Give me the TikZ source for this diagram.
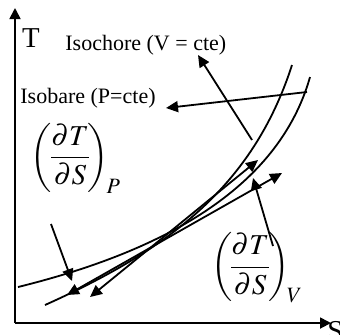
\documentclass[tikz,border=0pt]{standalone}
\usepackage{amsmath}
\usepackage{mathptmx}
\usepackage{fontspec}
\setmainfont{Liberation Serif}
\usetikzlibrary{arrows.meta}

\tikzset{
  curve/.style={line width=0.9pt},
  pointer/.style={line width=0.9pt,-{Triangle[length=6pt,width=5.5pt]}},
  tangent/.style={line width=0.9pt,{Triangle[length=6pt,width=5.5pt]}-{Triangle[length=6pt,width=5.5pt]}},
  axis/.style={line width=0.9pt,-{Triangle[length=5.5pt,width=5.5pt]}},
  label/.style={font=\fontsize{11}{13}\selectfont,inner sep=0pt},
  deriv/.style={font=\fontsize{14.4}{17}\selectfont,inner sep=0pt},
}

\begin{document}
\begin{tikzpicture}[x=0.5pt,y=-0.5pt]
  \useasboundingbox (0,0) rectangle (340,334);
  % axes
  \coordinate (O) at (15,323);
  \coordinate (Ttip) at (15,8);
  \coordinate (Stip) at (331,323);
  \draw[axis] (O) -- (Ttip);
  \draw[axis] (O) -- (Stip);
  \node[font=\fontsize{14.4}{17}\selectfont,inner sep=0pt] (Tlab) at (31,38) {T};
  \node[font=\fontsize{14.4}{17}\selectfont,inner sep=0pt,anchor=west] (Slab) at (327,331) {S};
  % isobare and isochore
  \draw[curve] (18,287) .. controls (160,252) and (278,190) .. (310,77);
  \draw[curve] (45,305) .. controls (165,251) and (252,189) .. (292,65);
  % tangents at the crossing
  \coordinate (tPa) at (67,295);
  \coordinate (tPb) at (282,173);
  \coordinate (tVa) at (90,297);
  \coordinate (tVb) at (258,160);
  \draw[tangent] (tPa) -- (tPb);
  \draw[tangent] (tVa) -- (tVb);
  % curve labels
  \node[label,anchor=west] (isochore) at (65,45) {Isochore (V = cte)};
  \node[label,anchor=west] (isobare) at (20,98) {Isobare (P=cte)};
  \coordinate (onV) at (252,140);
  \coordinate (toIsochore) at (198,55);
  \coordinate (onP) at (307,92);
  \coordinate (toIsobare) at (166,108);
  \draw[pointer] (onV) -- (toIsochore);
  \draw[pointer] (onP) -- (toIsobare);
  % slopes
  \node[deriv] (dTdSP) at (76,158) {$\displaystyle\left(\!\frac{\partial T}{\partial S}\!\right)_{\!P}$};
  \node[deriv] (dTdSV) at (257,268) {$\displaystyle\left(\!\frac{\partial T}{\partial S}\!\right)_{\!V}$};
  \coordinate (fromP) at (51,224);
  \coordinate (toP) at (72,281);
  \coordinate (fromV) at (273,246);
  \coordinate (toV) at (253,178);
  \draw[pointer] (fromP) -- (toP);
  \draw[pointer] (fromV) -- (toV);
\end{tikzpicture}
\end{document}
